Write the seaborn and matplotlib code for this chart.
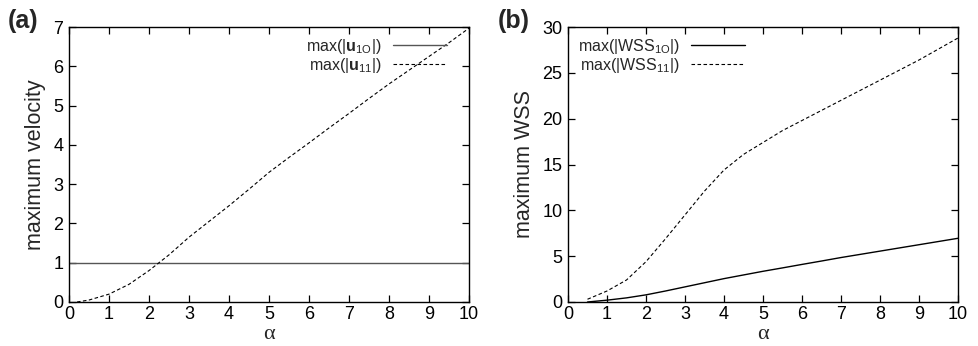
import numpy as np
import pandas as pd
import matplotlib
matplotlib.use("Agg")
import matplotlib.pyplot as plt
import seaborn as sns

# Panel (a): maximum velocity versus alpha
alpha_u10 = [0.0, 10.0]
u10_max = [1.0, 1.0]
alpha_u11 = [0.2, 0.5, 1.0, 1.5, 2.0, 2.5, 3.0, 3.5, 4.0, 4.5, 5.0, 5.5, 6.0, 6.5, 7.0, 7.5, 8.0, 8.5, 9.0, 9.5, 10.0]
u11_max = [0.0, 0.05, 0.2, 0.45, 0.8, 1.2, 1.65, 2.05, 2.45, 2.87, 3.3, 3.68, 4.05, 4.43, 4.8, 5.18, 5.55, 5.9, 6.25, 6.6, 6.97]

# Panel (b): maximum wall shear stress versus alpha
alpha_wss = [0.5, 1.0, 1.5, 2.0, 2.5, 3.0, 3.5, 4.0, 4.5, 5.0, 5.5, 6.0, 6.5, 7.0, 7.5, 8.0, 8.5, 9.0, 9.5, 10.0]
wss10_max = [0.0, 0.2, 0.45, 0.78, 1.2, 1.65, 2.1, 2.55, 2.95, 3.35, 3.72, 4.1, 4.47, 4.85, 5.2, 5.55, 5.9, 6.25, 6.6, 6.95]
wss11_max = [0.3, 1.2, 2.4, 4.4, 6.9, 9.5, 12.1, 14.4, 16.1, 17.4, 18.7, 19.8, 20.9, 22.0, 23.1, 24.2, 25.3, 26.4, 27.6, 28.8]

x_ticks = list(range(0, 11))
vel_ticks = list(range(0, 8))
wss_ticks = [0, 5, 10, 15, 20, 25, 30]

sns.set_theme(style="ticks")
plt.rcParams["font.family"] = ["Liberation Sans", "DejaVu Sans"]
plt.rcParams["mathtext.fontset"] = "custom"
plt.rcParams["mathtext.rm"] = "Liberation Sans"
plt.rcParams["mathtext.bf"] = "Liberation Sans:bold"
plt.rcParams["mathtext.it"] = "Liberation Sans:italic"

fig = plt.figure(figsize=(9.79, 3.46), dpi=100)
ax_a = fig.add_axes([69 / 979, 1 - 302 / 346, 400 / 979, 275 / 346])
ax_b = fig.add_axes([568 / 979, 1 - 302 / 346, 390 / 979, 275 / 346])

dash = (0, (3.2, 2.2))

df_a10 = pd.DataFrame({"alpha": alpha_u10, "value": u10_max})
df_a11 = pd.DataFrame({"alpha": alpha_u11, "value": u11_max})
sns.lineplot(data=df_a10, x="alpha", y="value", ax=ax_a, color="#555555", lw=1.0,
             label=r"max(|$\mathbf{u}_{\mathrm{1O}}$|)")
sns.lineplot(data=df_a11, x="alpha", y="value", ax=ax_a, color="black", lw=0.8,
             linestyle=dash, label=r"max(|$\mathbf{u}_{\mathrm{11}}$|)")

df_b10 = pd.DataFrame({"alpha": alpha_wss, "value": wss10_max})
df_b11 = pd.DataFrame({"alpha": alpha_wss, "value": wss11_max})
sns.lineplot(data=df_b10, x="alpha", y="value", ax=ax_b, color="black", lw=1.0,
             label=r"max(|WSS$_{\mathrm{1O}}$|)")
sns.lineplot(data=df_b11, x="alpha", y="value", ax=ax_b, color="black", lw=0.8,
             linestyle=dash, label=r"max(|WSS$_{\mathrm{11}}$|)")

for ax, yt, ylabel in [(ax_a, vel_ticks, "maximum velocity"), (ax_b, wss_ticks, "maximum WSS")]:
    ax.set_xlim(0, 10)
    ax.set_ylim(yt[0], yt[-1])
    ax.set_xticks(x_ticks)
    ax.set_yticks(yt)
    ax.tick_params(direction="in", length=5, width=0.9, top=True, right=True,
                   labelsize=13, pad=4, colors="black")
    ax.tick_params(axis="x", pad=3)
    for s in ax.spines.values():
        s.set_visible(True)
        s.set_linewidth(1.0)
        s.set_color("black")
    ax.set_xlabel("α", fontsize=16, family=["Liberation Serif", "DejaVu Serif"], labelpad=1)
    ax.set_ylabel(ylabel, fontsize=15.5, labelpad=5)

leg_a = ax_a.legend(loc="upper right", frameon=False, fontsize=11.5, markerfirst=False,
                    handlelength=3.4, handletextpad=0.7, labelspacing=0.0,
                    borderaxespad=0.2, bbox_to_anchor=(0.97, 1.0))
for t in leg_a.get_texts():
    t.set_ha("right")
leg_b = ax_b.legend(loc="upper left", frameon=False, fontsize=11.5, markerfirst=False,
                    handlelength=3.4, handletextpad=0.7, labelspacing=0.0,
                    borderaxespad=0.2, bbox_to_anchor=(0.0, 1.0))

fig.text(8 / 979, 1 - 21 / 346, "(a)", fontsize=18, fontweight="bold", va="center", ha="left")
fig.text(498 / 979, 1 - 21 / 346, "(b)", fontsize=18, fontweight="bold", va="center", ha="left")

fig.savefig("out.png", dpi=100)
